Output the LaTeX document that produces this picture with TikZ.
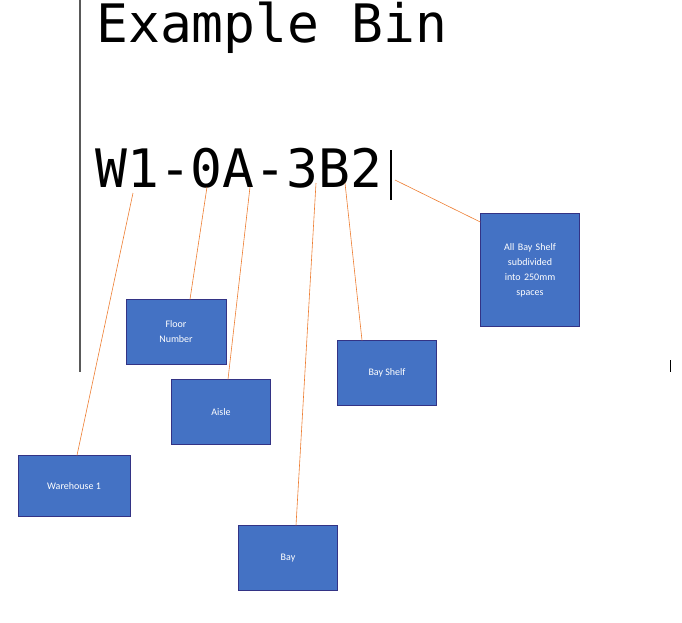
\documentclass[tikz,border=0pt]{standalone}
\usepackage{fontspec}
\newfontfamily\monof{DejaVu Sans Mono}
\newfontfamily\boxf{Carlito}
\begin{document}
\begin{tikzpicture}[x=1pt,y=-1pt,
  bx/.style={draw=blue!40!black!80,fill={rgb,255:red,68;green,114;blue,196},text=white,font=\boxf\fontsize{10}{15}\selectfont,align=center,inner sep=2pt},
  ln/.style={draw={rgb,255:red,237;green,125;blue,49},line width=0.6pt}]
\useasboundingbox (0,0) rectangle (682,622);
\draw[gray!70!black,line width=1.5pt] (80,0) -- (80,372);
\node[anchor=west,inner sep=0,font=\monof\fontsize{53}{53}\selectfont] (title) at (96,28) {Example Bin};
\node[anchor=west,inner sep=0,font=\monof\fontsize{53}{53}\selectfont] (code) at (95,168) {W1-0A-3B2};
\draw[black,line width=1.2pt] (391,150) -- (391,200);
\draw[black,line width=0.8pt] (670,360) -- (670,372);
\node[bx,minimum width=112,minimum height=61] (wh) at (74,486) {Warehouse 1};
\node[bx,minimum width=100,minimum height=65] (fl) at (176,332) {Floor\\Number};
\node[bx,minimum width=99,minimum height=65] (ai) at (221,412) {Aisle};
\node[bx,minimum width=99,minimum height=65] (bay) at (288,558) {Bay};
\node[bx,minimum width=99,minimum height=65] (bs) at (387,373) {Bay Shelf};
\node[bx,minimum width=99,minimum height=113,text width=80] (all) at (530,270) {All Bay Shelf\\subdivided\\into 250mm\\spaces};
\coordinate (cW) at (133,193);
\coordinate (cF) at (207,187);
\coordinate (cA) at (250,187);
\coordinate (cB) at (316,183);
\coordinate (cS) at (345,183);
\coordinate (cE) at (395,180);
\draw[ln] (cW) -- (wh.north -| 77,0);
\draw[ln] (cF) -- (fl.north -| 190,0);
\draw[ln] (cA) -- (ai.north -| 228,0);
\draw[ln] (cB) -- (bay.north -| 296,0);
\draw[ln] (cS) -- (bs.north -| 362,0);
\draw[ln] (cE) -- (all.west |- 0,222);
\end{tikzpicture}
\end{document}
